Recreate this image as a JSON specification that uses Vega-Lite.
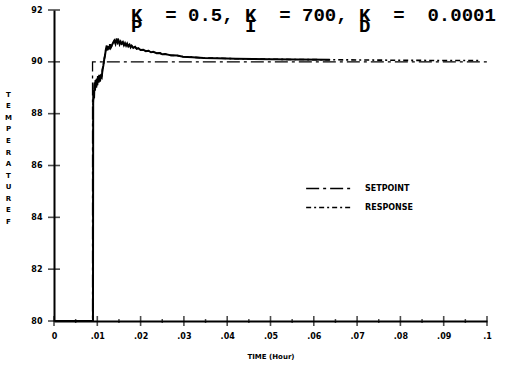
{
  "$schema": "https://vega.github.io/schema/vega-lite/v6.json",
  "width": 433,
  "height": 311,
  "autosize": {"type": "none"},
  "padding": {"left": 54, "top": 10, "right": 19, "bottom": 47},
  "background": "white",
  "title": {
    "text": "K\u00a0\u00a0=\u00a00.5,\u00a0K\u00a0\u00a0=\u00a0700,\u00a0K\u00a0\u00a0=\u00a0\u00a00.0001",
    "subtitle": "\u00a0P\u00a0\u00a0\u00a0\u00a0\u00a0\u00a0\u00a0\u00a0\u00a0I\u00a0\u00a0\u00a0\u00a0\u00a0\u00a0\u00a0\u00a0\u00a0D",
    "anchor": "start",
    "frame": "group",
    "dx": 77,
    "offset": -30,
    "font": "Liberation Mono",
    "fontSize": 19,
    "fontWeight": "bold",
    "color": "black",
    "subtitleFont": "Liberation Mono",
    "subtitleFontSize": 19,
    "subtitleFontWeight": "bold",
    "subtitleColor": "black",
    "subtitlePadding": -8
  },
  "datasets": {
    "curves": [
      {"t": 0, "temp": 80, "series": "SETPOINT"},
      {"t": 0.0089, "temp": 80, "series": "SETPOINT"},
      {"t": 0.0089, "temp": 90, "series": "SETPOINT"},
      {"t": 0.1, "temp": 90, "series": "SETPOINT"},
      {"t": 0, "temp": 80, "series": "RESPONSE"},
      {"t": 0.0090, "temp": 80, "series": "RESPONSE"},
      {"t": 0.00905, "temp": 88.4, "series": "RESPONSE"},
      {"t": 0.00915, "temp": 88.9, "series": "RESPONSE"},
      {"t": 0.00925, "temp": 88.6, "series": "RESPONSE"},
      {"t": 0.00935, "temp": 89.2, "series": "RESPONSE"},
      {"t": 0.00947, "temp": 88.9, "series": "RESPONSE"},
      {"t": 0.0096, "temp": 89.3, "series": "RESPONSE"},
      {"t": 0.00975, "temp": 89.0, "series": "RESPONSE"},
      {"t": 0.00986, "temp": 89.35, "series": "RESPONSE"},
      {"t": 0.01, "temp": 89.1, "series": "RESPONSE"},
      {"t": 0.01015, "temp": 89.45, "series": "RESPONSE"},
      {"t": 0.0103, "temp": 89.2, "series": "RESPONSE"},
      {"t": 0.01045, "temp": 89.5, "series": "RESPONSE"},
      {"t": 0.01062, "temp": 89.25, "series": "RESPONSE"},
      {"t": 0.0108, "temp": 89.45, "series": "RESPONSE"},
      {"t": 0.01102, "temp": 89.4, "series": "RESPONSE"},
      {"t": 0.0112, "temp": 89.7, "series": "RESPONSE"},
      {"t": 0.01139, "temp": 89.85, "series": "RESPONSE"},
      {"t": 0.0116, "temp": 90.1, "series": "RESPONSE"},
      {"t": 0.01178, "temp": 90.25, "series": "RESPONSE"},
      {"t": 0.012, "temp": 90.5, "series": "RESPONSE"},
      {"t": 0.01217, "temp": 90.62, "series": "RESPONSE"},
      {"t": 0.01235, "temp": 90.45, "series": "RESPONSE"},
      {"t": 0.01254, "temp": 90.6, "series": "RESPONSE"},
      {"t": 0.01275, "temp": 90.48, "series": "RESPONSE"},
      {"t": 0.01293, "temp": 90.68, "series": "RESPONSE"},
      {"t": 0.01312, "temp": 90.55, "series": "RESPONSE"},
      {"t": 0.01332, "temp": 90.62, "series": "RESPONSE"},
      {"t": 0.0136, "temp": 90.72, "series": "RESPONSE"},
      {"t": 0.01393, "temp": 90.82, "series": "RESPONSE"},
      {"t": 0.0142, "temp": 90.7, "series": "RESPONSE"},
      {"t": 0.01448, "temp": 90.9, "series": "RESPONSE"},
      {"t": 0.0147, "temp": 90.75, "series": "RESPONSE"},
      {"t": 0.0149, "temp": 90.82, "series": "RESPONSE"},
      {"t": 0.01515, "temp": 90.68, "series": "RESPONSE"},
      {"t": 0.0154, "temp": 90.78, "series": "RESPONSE"},
      {"t": 0.01564, "temp": 90.7, "series": "RESPONSE"},
      {"t": 0.0159, "temp": 90.76, "series": "RESPONSE"},
      {"t": 0.01615, "temp": 90.64, "series": "RESPONSE"},
      {"t": 0.0164, "temp": 90.72, "series": "RESPONSE"},
      {"t": 0.01665, "temp": 90.62, "series": "RESPONSE"},
      {"t": 0.0169, "temp": 90.7, "series": "RESPONSE"},
      {"t": 0.01716, "temp": 90.6, "series": "RESPONSE"},
      {"t": 0.01745, "temp": 90.66, "series": "RESPONSE"},
      {"t": 0.0177, "temp": 90.56, "series": "RESPONSE"},
      {"t": 0.01794, "temp": 90.62, "series": "RESPONSE"},
      {"t": 0.0183, "temp": 90.54, "series": "RESPONSE"},
      {"t": 0.01871, "temp": 90.58, "series": "RESPONSE"},
      {"t": 0.0191, "temp": 90.5, "series": "RESPONSE"},
      {"t": 0.01947, "temp": 90.53, "series": "RESPONSE"},
      {"t": 0.02, "temp": 90.46, "series": "RESPONSE"},
      {"t": 0.02062, "temp": 90.47, "series": "RESPONSE"},
      {"t": 0.0212, "temp": 90.41, "series": "RESPONSE"},
      {"t": 0.02178, "temp": 90.43, "series": "RESPONSE"},
      {"t": 0.0224, "temp": 90.37, "series": "RESPONSE"},
      {"t": 0.02293, "temp": 90.39, "series": "RESPONSE"},
      {"t": 0.0237, "temp": 90.33, "series": "RESPONSE"},
      {"t": 0.02448, "temp": 90.34, "series": "RESPONSE"},
      {"t": 0.025, "temp": 90.29, "series": "RESPONSE"},
      {"t": 0.02564, "temp": 90.3, "series": "RESPONSE"},
      {"t": 0.027, "temp": 90.25, "series": "RESPONSE"},
      {"t": 0.0285, "temp": 90.24, "series": "RESPONSE"},
      {"t": 0.02979, "temp": 90.2, "series": "RESPONSE"},
      {"t": 0.032, "temp": 90.18, "series": "RESPONSE"},
      {"t": 0.0345, "temp": 90.15, "series": "RESPONSE"},
      {"t": 0.0376, "temp": 90.14, "series": "RESPONSE"},
      {"t": 0.042, "temp": 90.12, "series": "RESPONSE"},
      {"t": 0.046, "temp": 90.11, "series": "RESPONSE"},
      {"t": 0.0499, "temp": 90.1, "series": "RESPONSE"},
      {"t": 0.056, "temp": 90.09, "series": "RESPONSE"},
      {"t": 0.0637, "temp": 90.08, "series": "RESPONSE"},
      {"t": 0.072, "temp": 90.07, "series": "RESPONSE"},
      {"t": 0.0799, "temp": 90.06, "series": "RESPONSE"},
      {"t": 0.09, "temp": 90.05, "series": "RESPONSE"},
      {"t": 0.0984, "temp": 90.05, "series": "RESPONSE"}
    ],
    "xMajor": [
      {"t": 0}, {"t": 0.01}, {"t": 0.02}, {"t": 0.03}, {"t": 0.04}, {"t": 0.05},
      {"t": 0.06}, {"t": 0.07}, {"t": 0.08}, {"t": 0.09}, {"t": 0.1}
    ],
    "xMinor": [
      {"t": 0.005}, {"t": 0.015}, {"t": 0.025}, {"t": 0.035}, {"t": 0.045},
      {"t": 0.055}, {"t": 0.065}, {"t": 0.075}, {"t": 0.085}, {"t": 0.095}
    ],
    "yMajor": [
      {"v": 80}, {"v": 82}, {"v": 84}, {"v": 86}, {"v": 88}, {"v": 90}, {"v": 92}
    ]
  },
  "config": {
    "view": {"stroke": null},
    "axis": {
      "domainColor": "black",
      "domainWidth": 2,
      "ticks": false,
      "grid": false,
      "labelFont": "DejaVu Sans",
      "labelFontWeight": "bold",
      "labelFontSize": 8,
      "labelColor": "black",
      "titleFont": "DejaVu Sans",
      "titleFontWeight": "bold",
      "titleFontSize": 7,
      "titleColor": "black"
    }
  },
  "layer": [
    {
      "data": {"name": "curves"},
      "mark": {"type": "line", "interpolate": "linear", "color": "black", "clip": true},
      "encoding": {
        "x": {
          "field": "t",
          "type": "quantitative",
          "scale": {"domain": [0, 0.1], "nice": false, "zero": false},
          "axis": {
            "values": [0, 0.01, 0.02, 0.03, 0.04, 0.05, 0.06, 0.07, 0.08, 0.09, 0.1],
            "labelExpr": "datum.value === 0 ? '0' : replace(format(datum.value, '.2~f'), /^0/, '')",
            "labelPadding": 11,
            "labelFlush": false,
            "title": "TIME (Hour)",
            "titlePadding": 12
          }
        },
        "y": {
          "field": "temp",
          "type": "quantitative",
          "scale": {"domain": [80, 92], "nice": false, "zero": false},
          "axis": {
            "values": [80, 82, 84, 86, 88, 90, 92],
            "labelPadding": 12,
            "title": ["T", "E", "M", "P", "E", "R", "A", "T", "U", "R", "E", " ", "F"],
            "titleAngle": 0,
            "titleAlign": "center",
            "titleBaseline": "top",
            "titleLineHeight": 11.6,
            "titleX": -46,
            "titleY": 80
          }
        },
        "detail": {"field": "series"},
        "strokeDash": {
          "field": "series",
          "type": "nominal",
          "scale": {"domain": ["SETPOINT", "RESPONSE"], "range": [[13, 4, 3, 4], [5, 3, 2, 3]]},
          "legend": {
            "title": null,
            "orient": "none",
            "legendX": 251,
            "legendY": 170,
            "rowPadding": 2,
            "clipHeight": 17,
            "symbolType": "stroke",
            "symbolSize": 2000,
            "symbolStrokeWidth": 1.3,
            "symbolStrokeColor": "black",
            "labelFont": "DejaVu Sans",
            "labelFontWeight": "bold",
            "labelFontSize": 8,
            "labelColor": "black",
            "labelOffset": 13
          }
        },
        "strokeWidth": {
          "field": "series",
          "type": "nominal",
          "scale": {"domain": ["SETPOINT", "RESPONSE"], "range": [1.3, 1.6]},
          "legend": null
        }
      }
    },
    {
      "data": {"name": "curves"},
      "transform": [
        {"filter": "datum.series === 'RESPONSE' && datum.t <= 0.064"}
      ],
      "mark": {"type": "line", "interpolate": "linear", "color": "black", "strokeWidth": 2, "clip": true},
      "encoding": {
        "x": {"field": "t", "type": "quantitative"},
        "y": {"field": "temp", "type": "quantitative"}
      }
    },
    {
      "data": {"name": "xMinor"},
      "mark": {"type": "tick", "orient": "vertical", "color": "black", "size": 4, "thickness": 1.5},
      "encoding": {
        "x": {"field": "t", "type": "quantitative"},
        "y": {"datum": 80}
      }
    },
    {
      "data": {"name": "xMajor"},
      "mark": {"type": "tick", "orient": "vertical", "color": "black", "size": 10, "thickness": 1.6},
      "encoding": {
        "x": {"field": "t", "type": "quantitative"},
        "y": {"datum": 80}
      }
    },
    {
      "data": {"name": "yMajor"},
      "mark": {"type": "tick", "orient": "horizontal", "color": "black", "size": 12, "thickness": 1.6},
      "encoding": {
        "y": {"field": "v", "type": "quantitative"},
        "x": {"datum": 0}
      }
    }
  ]
}
